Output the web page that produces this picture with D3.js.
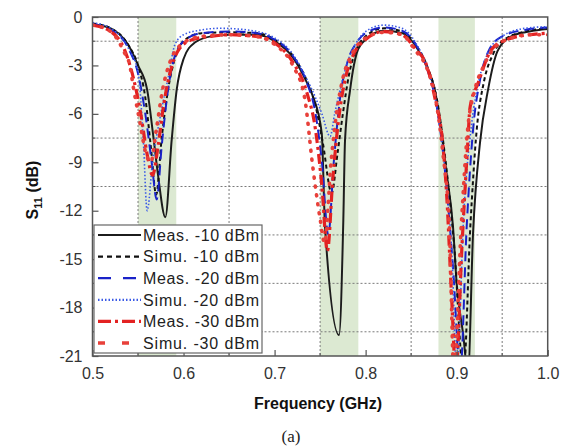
<!DOCTYPE html>
<html>
<head>
<meta charset="utf-8">
<script src="https://cdn.jsdelivr.net/npm/d3@7"></script>
<style>
	body { margin: 0; background: #fff; }
	text { font-family: Arial, "Liberation Sans", sans-serif; }
</style>
</head>
<body>
<svg id="chart" width="570" height="447"></svg>
<script>
/* S11 vs frequency */

// 各系列のデータ（周波数 GHz, S11 dB）
const measM10F = [0.50,0.52,0.54,0.55,0.56,0.5668,0.572,0.580,0.587,0.5925,0.600,0.612,0.63,0.65,0.68,0.70,0.72,0.735,0.742,0.7518,0.7554,0.7708,0.7755,0.7774,0.783,0.7917,0.80,0.82,0.84,0.855,0.868,0.876,0.889,0.896,0.900,0.907,0.9125,0.918,0.9256,0.9345,0.945,0.96,0.98,1.00];
const measM10 = [-0.45,-0.7,-1.8,-3.0,-4.5,-7.4,-9.8,-12.4,-7.6,-4.5,-2.6,-1.6,-1.2,-1.1,-1.1,-1.5,-2.5,-4.0,-4.9,-7.2,-13.0,-19.7,-12.6,-7.6,-4.5,-2.0,-1.4,-0.85,-1.0,-1.8,-3.2,-4.5,-9.7,-13.0,-16.5,-19.6,-22,-13.4,-7.8,-4.5,-2.1,-1.2,-0.9,-0.75];

const simuM10F = [0.50,0.52,0.54,0.55,0.558,0.564,0.570,0.576,0.583,0.592,0.602,0.62,0.65,0.68,0.70,0.72,0.735,0.745,0.753,0.7627,0.769,0.775,0.782,0.79,0.80,0.82,0.84,0.855,0.868,0.878,0.888,0.897,0.9076,0.915,0.922,0.93,0.94,0.955,0.98,1.00];
const simuM10 = [-0.4,-0.7,-1.8,-3.0,-5.0,-8.0,-11.0,-7.5,-4.5,-2.3,-1.4,-1.0,-0.95,-1.0,-1.4,-2.4,-3.9,-5.5,-7.8,-10.9,-8.5,-6.0,-3.5,-2.0,-1.2,-0.7,-0.9,-1.7,-3.1,-5.0,-9.0,-14.0,-22,-13.0,-7.0,-4.0,-2.3,-1.3,-0.85,-0.7];

const measM20F = [0.50,0.52,0.54,0.55,0.558,0.565,0.5705,0.576,0.583,0.59,0.60,0.62,0.65,0.68,0.70,0.72,0.735,0.745,0.752,0.759,0.765,0.772,0.78,0.79,0.80,0.82,0.84,0.855,0.868,0.878,0.888,0.896,0.904,0.911,0.918,0.926,0.936,0.95,0.975,1.00];
const measM20 = [-0.45,-0.8,-2.0,-3.5,-6.0,-9.0,-11.3,-8.0,-4.5,-2.5,-1.5,-1.0,-0.9,-1.0,-1.4,-2.4,-4.0,-6.0,-9.0,-13.5,-9.0,-5.0,-2.8,-1.6,-1.0,-0.65,-0.85,-1.7,-3.3,-5.5,-10.0,-15.5,-22,-13.0,-7.0,-3.8,-2.0,-1.2,-0.8,-0.65];

const simuM20F = [0.50,0.52,0.54,0.5503,0.5558,0.560,0.566,0.575,0.583,0.5906,0.60,0.62,0.64,0.67,0.70,0.72,0.735,0.745,0.752,0.761,0.766,0.772,0.78,0.792,0.80,0.82,0.84,0.855,0.868,0.878,0.888,0.895,0.900,0.908,0.9165,0.925,0.9345,0.95,0.975,1.00];
const simuM20 = [-0.35,-0.7,-2.0,-3.5,-7.6,-12.0,-9.0,-6.0,-3.8,-1.7,-1.1,-0.8,-0.7,-0.8,-1.3,-2.3,-3.8,-5.0,-6.0,-7.4,-6.0,-4.5,-2.8,-1.4,-0.9,-0.5,-0.7,-1.6,-3.2,-5.5,-10.0,-15.0,-22,-12.0,-6.6,-3.8,-2.2,-1.2,-0.7,-0.6];

const measM30F = [0.50,0.52,0.535,0.545,0.553,0.560,0.566,0.572,0.578,0.585,0.595,0.61,0.63,0.65,0.68,0.70,0.72,0.735,0.745,0.752,0.758,0.764,0.77,0.777,0.786,0.80,0.82,0.84,0.855,0.867,0.876,0.885,0.889,0.8946,0.899,0.906,0.912,0.9147,0.9235,0.9385,0.955,0.98,1.00];
const measM30 = [-0.5,-0.9,-2.0,-3.8,-6.0,-8.5,-9.8,-8.0,-5.5,-3.5,-2.0,-1.4,-1.2,-1.1,-1.2,-1.6,-2.8,-4.6,-7.0,-10.5,-14.5,-10.0,-6.5,-4.0,-2.4,-1.4,-0.9,-1.1,-2.0,-3.0,-5.0,-8.0,-11.0,-17.5,-22,-14.0,-8.0,-5.6,-4.1,-2.0,-1.4,-1.1,-1.0];

const simuM30F = [0.50,0.52,0.535,0.541,0.545,0.552,0.558,0.564,0.570,0.577,0.585,0.60,0.62,0.65,0.68,0.70,0.72,0.733,0.742,0.750,0.755,0.762,0.768,0.775,0.785,0.80,0.82,0.84,0.855,0.866,0.876,0.885,0.892,0.897,0.905,0.912,0.92,0.93,0.94,0.96,0.98,1.00];
const simuM30 = [-0.5,-0.9,-2.2,-3.0,-4.4,-6.5,-8.3,-9.0,-7.0,-4.5,-2.8,-1.6,-1.2,-1.1,-1.2,-1.7,-3.0,-5.0,-9.3,-12.5,-14.0,-9.0,-6.0,-3.8,-2.3,-1.3,-0.95,-1.1,-2.1,-3.0,-4.8,-8.5,-13.0,-22,-13.0,-7.0,-4.5,-3.0,-2.0,-1.3,-1.1,-1.1];

// 緑の帯（周波数範囲）
const bandStart = [0.55, 0.75, 0.88];
const bandEnd = [0.592, 0.792, 0.92];

// 凡例ラベル
const seriesNames = ["Meas. -10 dBm", "Simu. -10 dBm", "Meas. -20 dBm", "Simu. -20 dBm", "Meas. -30 dBm", "Simu. -30 dBm"];

// 目盛り
const xTicks = [0.5, 0.6, 0.7, 0.8, 0.9, 1.0];
const yTicks = [0, -3, -6, -9, -12, -15, -18, -21];

const series = [
	{name: seriesNames[0], f: measM10F, v: measM10, color: "#1c1c1c", width: 2, dash: null, legDash: null, cap: "butt"},
	{name: seriesNames[1], f: simuM10F, v: simuM10, color: "#111", width: 2, dash: "4,3", legDash: "5,4", cap: "butt"},
	{name: seriesNames[2], f: measM20F, v: measM20, color: "#1a22c8", width: 2, dash: "10,6", legDash: "13,12", cap: "butt"},
	{name: seriesNames[3], f: simuM20F, v: simuM20, color: "#3a5ae6", width: 1.6, dash: "1.5,2", legDash: "1.5,2", cap: "butt"},
	{name: seriesNames[4], f: measM30F, v: measM30, color: "#e32222", width: 3.2, dash: "10,4,3,4", legDash: "13,4,3,4", cap: "butt"},
	{name: seriesNames[5], f: simuM30F, v: simuM30, color: "#e8403a", width: 3.6, dash: "1,8", legDash: "7,17", cap: "round"}
];

// 描画領域
const plotL = 92.5, plotR = 547.7, plotT = 17, plotB = 356;

const svg = d3.select("#chart");

const x = d3.scaleLinear().domain([0.5, 1.0]).range([plotL, plotR]);
const y = d3.scaleLinear().domain([-21, 0]).range([plotB, plotT]);

svg.append("defs").append("clipPath").attr("id", "plotClip")
	.append("rect")
	.attr("x", plotL).attr("y", plotT)
	.attr("width", plotR - plotL).attr("height", plotB - plotT);

// 帯
svg.append("g").selectAll("rect").data(bandStart).enter()
	.append("rect")
	.attr("x", d => x(d))
	.attr("y", plotT)
	.attr("width", (d, i) => x(bandEnd[i]) - x(d))
	.attr("height", plotB - plotT)
	.attr("fill", "#dce9d2");

// グリッド（半目盛り位置）
const gridX = d3.range(0.55, 1.0, 0.1);
const gridY = d3.range(-1.5, -21, -3);
const grid = svg.append("g").attr("stroke", "#7a7a7a").attr("stroke-width", 1).attr("stroke-dasharray", "2,2");
grid.selectAll("line.gx").data(gridX).enter()
	.append("line").attr("class", "gx")
	.attr("x1", d => x(d)).attr("x2", d => x(d))
	.attr("y1", plotT).attr("y2", plotB);
grid.selectAll("line.gy").data(gridY).enter()
	.append("line").attr("class", "gy")
	.attr("x1", plotL).attr("x2", plotR)
	.attr("y1", d => y(d)).attr("y2", d => y(d));

// 曲線
const line = d3.line()
	.x(d => x(d[0]))
	.y(d => y(d[1]))
	.curve(d3.curveMonotoneX);

svg.append("g").attr("clip-path", "url(#plotClip)")
	.selectAll("path").data(series).enter()
	.append("path")
	.attr("d", s => line(s.f.map((f, i) => [f, s.v[i]])))
	.attr("fill", "none")
	.attr("stroke", s => s.color)
	.attr("stroke-width", s => s.width)
	.attr("stroke-dasharray", s => s.dash)
	.attr("stroke-linecap", s => s.cap)
	.attr("stroke-linejoin", "round");

// 軸
const xAxis = svg.append("g")
	.attr("transform", `translate(0,${plotB})`)
	.call(d3.axisBottom(x).tickValues(xTicks).tickFormat(d3.format(".1f")).tickSize(-6).tickPadding(12));
const yAxis = svg.append("g")
	.attr("transform", `translate(${plotL},0)`)
	.call(d3.axisLeft(y).tickValues(yTicks).tickFormat(d => d).tickSize(-6).tickPadding(10));

[xAxis, yAxis].forEach(a => {
	a.select(".domain").remove();
	a.selectAll("line").attr("stroke", "#555").attr("stroke-width", 1.2);
	a.selectAll("text").attr("font-size", 16).attr("fill", "#333").attr("font-family", "Arial, 'Liberation Sans', sans-serif");
});

// 補助目盛り
svg.append("g").selectAll("line").data(gridX).enter()
	.append("line")
	.attr("x1", d => x(d)).attr("x2", d => x(d))
	.attr("y1", plotB).attr("y2", plotB - 3)
	.attr("stroke", "#555");
svg.append("g").selectAll("line").data(gridY).enter()
	.append("line")
	.attr("x1", plotL).attr("x2", plotL + 3)
	.attr("y1", d => y(d)).attr("y2", d => y(d))
	.attr("stroke", "#555");

// 枠
svg.append("rect")
	.attr("x", plotL).attr("y", plotT)
	.attr("width", plotR - plotL).attr("height", plotB - plotT)
	.attr("fill", "none")
	.attr("stroke", "#555")
	.attr("stroke-width", 1.5);

// 軸ラベル
svg.append("text")
	.attr("x", 318).attr("y", 409)
	.attr("text-anchor", "middle")
	.attr("font-size", 16).attr("font-weight", "bold").attr("fill", "#111")
	.text("Frequency (GHz)");

const yl = svg.append("text")
	.attr("transform", "translate(38,190) rotate(-90)")
	.attr("text-anchor", "middle")
	.attr("font-size", 16).attr("font-weight", "bold").attr("fill", "#111");
yl.append("tspan").text("S");
yl.append("tspan").attr("font-size", 11).attr("dy", 4).text("11");
yl.append("tspan").attr("dy", -4).text(" (dB)");

svg.append("text")
	.attr("x", 291).attr("y", 442)
	.attr("text-anchor", "middle")
	.attr("font-size", 17).attr("fill", "#222")
	.style("font-family", "'Liberation Serif', 'DejaVu Serif', serif")
	.text("(a)");

// 凡例
const legend = svg.append("g");
legend.append("rect")
	.attr("x", 94).attr("y", 225)
	.attr("width", 168).attr("height", 128)
	.attr("fill", "#fff")
	.attr("stroke", "#666")
	.attr("stroke-width", 1.2);

const item = legend.selectAll("g.item").data(series).enter()
	.append("g").attr("class", "item")
	.attr("transform", (d, i) => `translate(0,${235 + i * 21.6})`);
item.append("line")
	.attr("x1", 98).attr("x2", 141)
	.attr("stroke", d => d.color)
	.attr("stroke-width", d => Math.max(d.width, 2.2))
	.attr("stroke-dasharray", d => d.legDash);
item.append("text")
	.attr("x", 143).attr("y", 0)
	.attr("dy", "0.36em")
	.attr("font-size", 16).attr("fill", "#222")
	.attr("textLength", 116)
	.text(d => d.name);
</script>
</body>
</html>
